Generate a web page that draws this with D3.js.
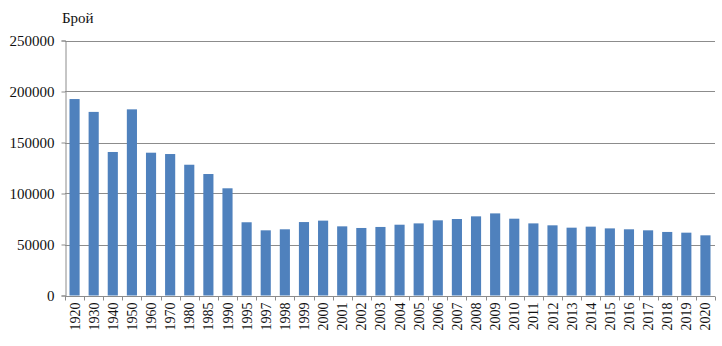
<!DOCTYPE html>
<html><head><meta charset="utf-8">
<script src="https://cdn.jsdelivr.net/npm/d3@7"></script>
<style>body{margin:0;background:#fff}svg{display:block}svg text{font-family:"Liberation Serif","Times New Roman","DejaVu Serif",serif}</style>
</head><body>
<script>
const categories = ["1920","1930","1940","1950","1960","1970","1980","1985","1990","1995","1997","1998","1999","2000","2001","2002","2003","2004","2005","2006","2007","2008","2009","2010","2011","2012","2013","2014","2015","2016","2017","2018","2019","2020"];
const values = [192600,180000,140700,182500,140000,138700,128200,119100,105100,71800,63900,64900,72000,73400,67800,66200,67200,69400,70700,73700,75000,77600,80500,75300,70700,68800,66500,67500,65800,64900,63900,62300,61600,59000];
const yTicks = [0,50000,100000,150000,200000,250000];
const yLabel = "Брой";

const W=722,H=346, L=65, R=715, T=40.5, B=295.5;
const svg=d3.select("body").append("svg").attr("width",W).attr("height",H);
const x=d3.scaleBand().domain(categories).range([L,R]).paddingInner(0.47).paddingOuter(0.235);
const y=d3.scaleLinear().domain([0,250000]).range([B,T]);

// gridlines
svg.append("g").selectAll("line").data(yTicks.filter(d=>d>0)).join("line")
  .attr("x1",L).attr("x2",R).attr("y1",d=>Math.round(y(d))+0.5).attr("y2",d=>Math.round(y(d))+0.5)
  .attr("stroke","#8c8c8c").attr("stroke-width",1);

// bars
svg.append("g").selectAll("rect").data(values).join("rect")
  .attr("x",(d,i)=>x(categories[i])).attr("width",x.bandwidth())
  .attr("y",d=>y(d)).attr("height",d=>B-y(d)).attr("fill","#4f81bd");

// y axis
const ya=svg.append("g").attr("transform",`translate(${L+0.5},0)`)
  .call(d3.axisLeft(y).tickValues(yTicks).tickSize(4).tickPadding(7).tickFormat(d=>String(d)));
ya.attr("font-family",null);
ya.select(".domain").attr("stroke","#8c8c8c");
ya.selectAll(".tick line").attr("stroke","#8c8c8c");
ya.selectAll("text").attr("font-size",15).attr("fill","#111");

// x axis
const xa=svg.append("g").attr("transform",`translate(0,${Math.round(B)+0.5})`);
xa.append("line").attr("x1",L).attr("x2",R).attr("stroke","#8c8c8c");
const step=x.step();
xa.selectAll("line.t").data(d3.range(categories.length+1)).join("line").attr("class","t")
  .attr("x1",i=>Math.round(L+i*step)+0.5).attr("x2",i=>Math.round(L+i*step)+0.5)
  .attr("y1",0).attr("y2",4).attr("stroke","#8c8c8c");
xa.selectAll("text").data(categories).join("text")
  .attr("transform",d=>`translate(${x(d)+x.bandwidth()/2+5},6) rotate(-90)`)
  .attr("text-anchor","end").attr("font-size",14).attr("fill","#111")
  .text(d=>d);

svg.append("text").attr("x",62).attr("y",23).attr("font-size",15)
  .attr("fill","#111").text(yLabel);
</script>
</body></html>
